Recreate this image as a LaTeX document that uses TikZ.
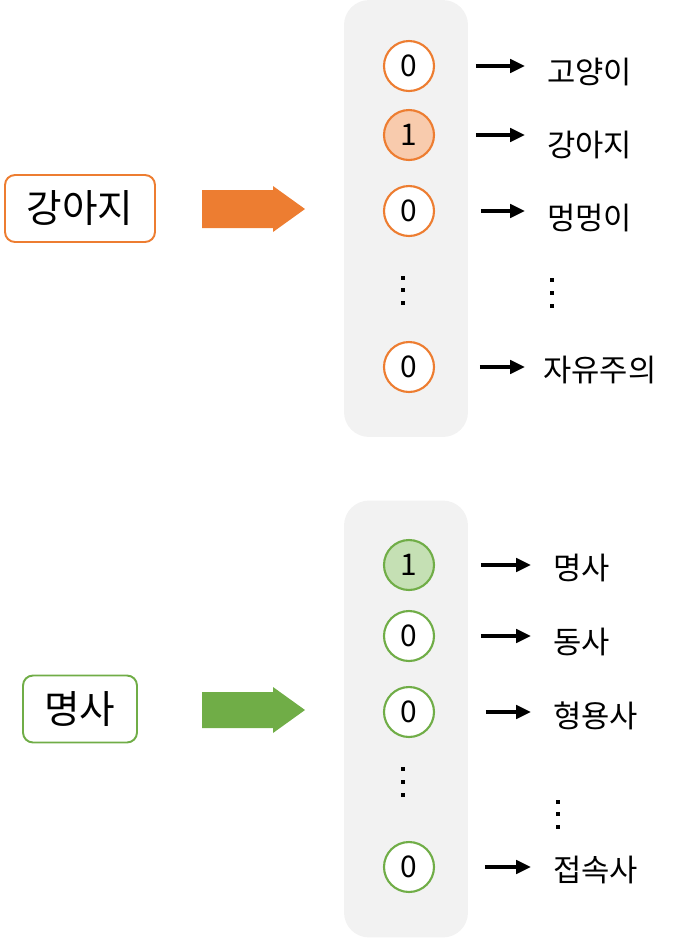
\documentclass[tikz,border=0pt]{standalone}
\usepackage{fontspec}
\setmainfont{Noto Sans CJK KR}
\usepackage{tikz}
\usetikzlibrary{positioning, arrows.meta}

\definecolor{orng}{HTML}{ED7D31}
\definecolor{orngfill}{HTML}{F8CBAD}
\definecolor{grn}{HTML}{70AD47}
\definecolor{grnfill}{HTML}{C5E0B4}
\definecolor{panelgray}{HTML}{F2F2F2}

\begin{document}
\begin{tikzpicture}[x=0.02cm, y=-0.02cm,
		panel/.style={fill=panelgray, rounded corners=0.5cm, minimum width=2.48cm, minimum height=8.74cm, inner sep=0pt},
		bit/.style={circle, draw=#1, line width=1.2pt, fill=white, minimum size=1cm, inner sep=0pt, font=\fontsize{17}{19}\selectfont},
		word/.style={draw=#1, line width=1.1pt, rounded corners=0.2cm, minimum height=1.34cm, inner sep=0pt, font=\fontsize{22}{26}\selectfont},
		label/.style={anchor=west, inner sep=0pt, font=\fontsize{17.5}{21}\selectfont},
		arr/.style={-{Triangle[length=8.5pt, width=7.5pt]}, line width=2.3pt}]
		\useasboundingbox (0,0) rectangle (675,938);
		
		% one-hot of a word
		\node[panel] (vecA) at (406,218.5) {};
		\node[word=orng, minimum width=3cm] (wA) at (80,208.5) {강아지};
		\fill[orng] (202,190) -- (273,190) -- (273,186) -- (305,209) -- (273,232) -- (273,228) -- (202,228) -- cycle;
		
		\node[bit=orng] (a1) at (409,66) {0};
		\node[bit=orng, fill=orngfill] (a2) at (409,135) {1};
		\node[bit=orng] (a3) at (409,211) {0};
		\node[bit=orng] (a4) at (409,367) {0};
		
		\node[label] (la1) at (547,72) {고양이};
		\node[label] (la2) at (547,145) {강아지};
		\node[label] (la3) at (547,218) {멍멍이};
		\node[label] (la4) at (543,370) {자유주의};
		
		\foreach \y in {276,288,301} \fill (401,\y) rectangle ++(4,4);
		\foreach \y in {278,291,304} \fill (550,\y) rectangle ++(4,4);
		
		\draw[arr, shorten <=41pt*0.567, shorten >=22pt*0.567] (a1.east) -- (a1.east -| la1.west);
		\draw[arr, shorten <=41pt*0.567, shorten >=22pt*0.567] (a2.east) -- (a2.east -| la2.west);
		\draw[arr, shorten <=46pt*0.567, shorten >=22pt*0.567] (a3.east) -- (a3.east -| la3.west);
		\draw[arr, shorten <=45pt*0.567, shorten >=18pt*0.567] (a4.east) -- (a4.east -| la4.west);
		
		% one-hot of a part of speech
		\node[panel] (vecB) at (406,719) {};
		\node[word=grn, minimum width=2.28cm] (wB) at (80,709) {명사};
		\fill[grn] (202,692) -- (273,692) -- (273,687) -- (305,710) -- (273,733) -- (273,728) -- (202,728) -- cycle;
		
		\node[bit=grn, fill=grnfill] (b1) at (409,565) {1};
		\node[bit=grn] (b2) at (409,636) {0};
		\node[bit=grn] (b3) at (409,712) {0};
		\node[bit=grn] (b4) at (409,867) {0};
		
		\node[label] (lb1) at (553,568) {명사};
		\node[label] (lb2) at (553,642) {동사};
		\node[label] (lb3) at (553,716) {형용사};
		\node[label] (lb4) at (553,870) {접속사};
		
		\foreach \y in {767,780,793} \fill (401,\y) rectangle ++(4,4);
		\foreach \y in {800,812,825} \fill (556,\y) rectangle ++(4,4);
		
		\draw[arr, shorten <=46pt*0.567, shorten >=22pt*0.567] (b1.east) -- (b1.east -| lb1.west);
		\draw[arr, shorten <=46pt*0.567, shorten >=22pt*0.567] (b2.east) -- (b2.east -| lb2.west);
		\draw[arr, shorten <=51pt*0.567, shorten >=22pt*0.567] (b3.east) -- (b3.east -| lb3.west);
		\draw[arr, shorten <=50pt*0.567, shorten >=22pt*0.567] (b4.east) -- (b4.east -| lb4.west);
	\end{tikzpicture}
\end{document}
